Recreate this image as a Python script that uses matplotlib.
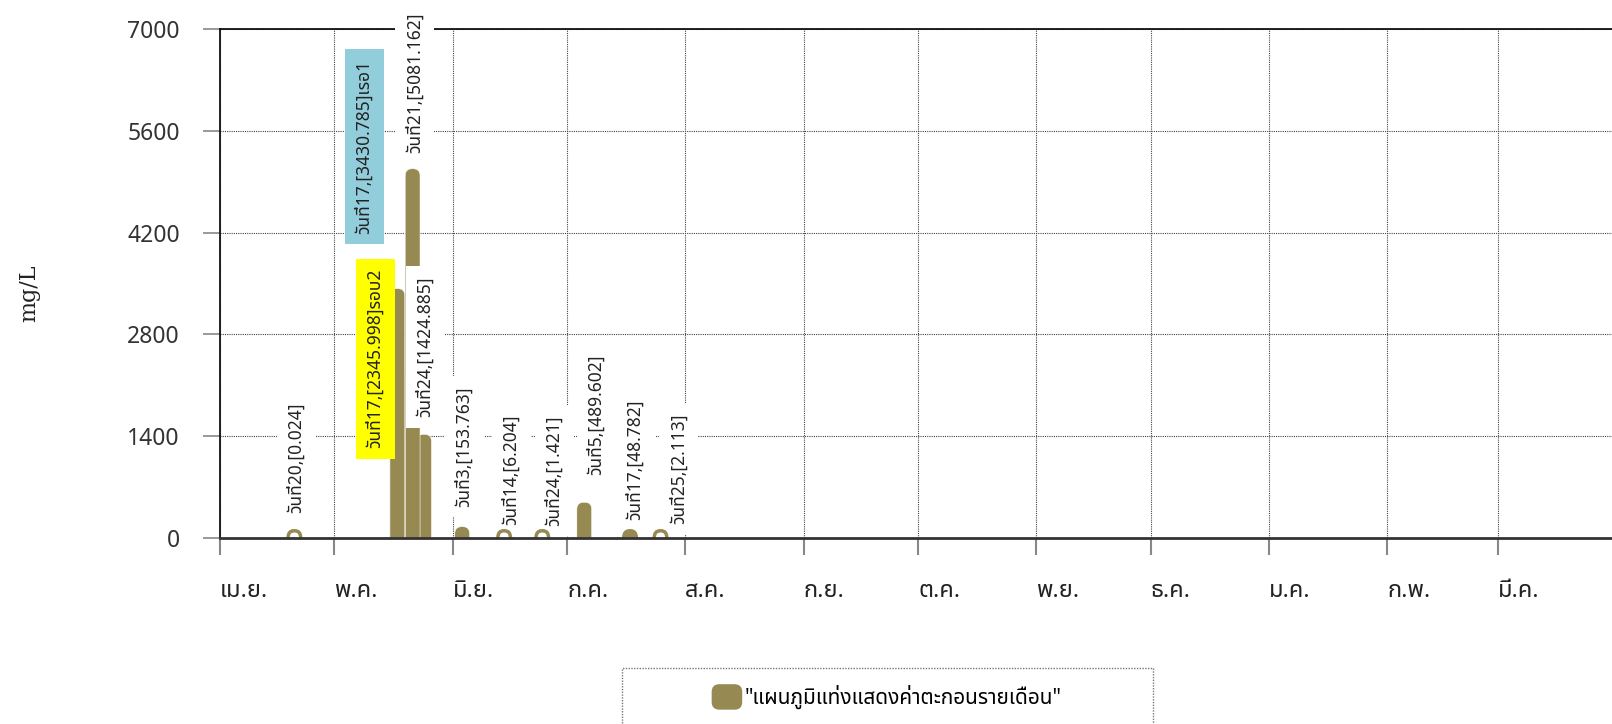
import matplotlib
matplotlib.use('Agg')
import matplotlib.pyplot as plt
import matplotlib.dates as mdates
import pandas as pd
from matplotlib import font_manager
from matplotlib.ft2font import FT2Font
from matplotlib.patches import FancyBboxPatch, Rectangle, Patch
from matplotlib.legend_handler import HandlerPatch

# sample days and sediment values (mg/L)
sample_dates = ['2023-04-20', '2023-05-17', '2023-05-17', '2023-05-21', '2023-05-24',
                '2023-06-03', '2023-06-14', '2023-06-24', '2023-07-05', '2023-07-17',
                '2023-07-25']
sample_values = [0.024, 3430.785, 2345.998, 5081.162, 1424.885,
                 153.763, 6.204, 1.421, 489.602, 48.782, 2.113]
round_tags = ['', 'เรอ1', 'รอบ2', '', '', '', '', '', '', '', '']

month_labels = ['เม.ย.', 'พ.ค.', 'มิ.ย.', 'ก.ค.', 'ส.ค.', 'ก.ย.',
                'ต.ค.', 'พ.ย.', 'ธ.ค.', 'ม.ค.', 'ก.พ.', 'มี.ค.']
y_ticks = [0, 1400, 2800, 4200, 5600, 7000]
legend_label = '"แผนภูมิแท่งแสดงค่าตะกอนรายเดือน"'

# label styling (box colour, offset in px from bar top)
label_bg = ['white', '#92cddc', '#ffff00', 'white', 'white', 'white',
            'white', 'white', 'white', 'white', 'white']
label_dx = [2, -33, -22, 2, 1, 2, 7, 12, 12, 5, 18]
label_dy = [25, 55, -81, 16, 17, 20, 12, 12, 27, 14, 14]

bar_color = '#968a52'


def find_thai_font():
    # pick any installed font that has Thai glyphs
    found = []
    for f in font_manager.fontManager.ttflist:
        try:
            if 0x0E27 in FT2Font(f.fname).get_charmap():
                found.append(f.name)
        except Exception:
            pass
    for pref in ['Noto Sans Thai', 'Noto Sans Thai UI', 'Loma', 'Garuda', 'Sarabun', 'Tlwg Typo']:
        if pref in found:
            return pref
    return found[0] if found else None


thai = find_thai_font()
thai_family = [thai, 'DejaVu Sans'] if thai else ['DejaVu Sans']

fig = plt.figure(figsize=(16.12, 7.24), dpi=100)
ax = fig.add_axes([220 / 1612, 1 - 537.8 / 724, (1616 - 220) / 1612, 508.5 / 724])

dates = pd.to_datetime(sample_dates)
x0 = mdates.date2num(pd.Timestamp('2023-04-01'))
x1 = mdates.date2num(pd.Timestamp('2024-04-01'))
ax.set_xlim(x0, x1)
ax.set_ylim(0, 7000)

xs = mdates.date2num(dates) + 0.5
bars = ax.bar(xs, sample_values, width=3.9, color=bar_color)

# pixel scale of the axes, used to round the bar tops
p0 = ax.transData.transform((x0, 0))
p1 = ax.transData.transform((x0 + 1, 1))
px_day = p1[0] - p0[0]
px_unit = p1[1] - p0[1]
rx = 7 / px_day
ry = 7 / px_unit

n = len(bars)
for i, rect in enumerate(bars):
    rect.set_visible(False)
    x, w, h = rect.get_x(), rect.get_width(), rect.get_height()
    if h >= ry:
        p = FancyBboxPatch((x, -ry), w, h + ry, boxstyle=f'round,pad=0,rounding_size={rx}',
                           mutation_aspect=ry / rx, fc=bar_color, ec='white', lw=0.4,
                           zorder=3 + (n - i) * 0.01)
    else:
        # near-zero values show only the rounded cap outline
        face = bar_color if h > 0.4 * ry else 'white'
        r2 = rx - 0.3
        p = FancyBboxPatch((x + 0.3, -ry), w - 0.6, 2 * ry,
                           boxstyle=f'round,pad=0,rounding_size={r2}',
                           mutation_aspect=ry / r2, fc=face, ec=bar_color, lw=2.5, zorder=6)
    ax.add_patch(p)

# rotated value labels
for i, (d, v) in enumerate(zip(dates, sample_values)):
    txt = f'วันที่{d.day},[{v:.3f}]{round_tags[i]}'
    ax.annotate(txt, xy=(xs[i], max(v, 0)), xytext=(label_dx[i] * 0.72, label_dy[i] * 0.72),
                textcoords='offset points', rotation=90, ha='center', va='bottom',
                fontsize=12.5, family=thai_family, color='#222222', zorder=5,
                bbox=dict(boxstyle='square,pad=0.6', fc=label_bg[i], ec='none'),
                annotation_clip=False)

# axes styling
month_starts = pd.date_range('2023-04-01', periods=12, freq='MS')
ax.set_xticks(mdates.date2num(month_starts))
ax.set_xticklabels(month_labels, ha='left', family=thai_family, fontsize=17, color='#222222')
ax.set_yticks(y_ticks)
ax.set_yticklabels([str(t) for t in y_ticks], fontsize=16.5, color='#333333',
                   family=thai_family)
ax.tick_params(axis='x', length=12, width=1.5, color='#888888', pad=18)
ax.tick_params(axis='y', length=12, width=1.2, color='#888888', pad=17)

ax.grid(True, color='#444444', linestyle=(0, (1, 1)), linewidth=0.8)
ax.set_axisbelow(True)
for s in ['top', 'left', 'right']:
    ax.spines[s].set_color('#111111')
    ax.spines[s].set_linewidth(1.3)
ax.spines['bottom'].set_color('#333333')
ax.spines['bottom'].set_linewidth(2)
ax.spines['bottom'].set_zorder(7)

fig.text(29 / 1612, 1 - 293 / 724, 'mg/L', rotation=90, ha='center', va='center',
         fontsize=16, family='DejaVu Serif', color='#222222')


# legend with a rounded swatch
class RoundHandler(HandlerPatch):
    def create_artists(self, legend, orig_handle, xdescent, ydescent, width, height, fontsize, trans):
        sw = FancyBboxPatch((-xdescent, -ydescent), width, height,
                            boxstyle='round,pad=0,rounding_size=5', fc=bar_color, ec=bar_color)
        sw.set_transform(trans)
        return [sw]


fig.patches.append(Rectangle((622 / 1612, -0.02), (1153 - 622) / 1612, (724 - 668) / 724 + 0.02,
                             transform=fig.transFigure, fill=False, ec='#777777',
                             ls=(0, (1, 1)), lw=1))
fig.legend(handles=[Patch(fc=bar_color)], labels=[legend_label], loc='center',
           bbox_to_anchor=(887 / 1612, 1 - 697 / 724), frameon=False,
           handler_map={Patch: RoundHandler()}, handlelength=1.4, handleheight=1.4,
           handletextpad=0.15, prop=font_manager.FontProperties(family=thai_family, size=15))

fig.savefig('out.png', dpi=100)
